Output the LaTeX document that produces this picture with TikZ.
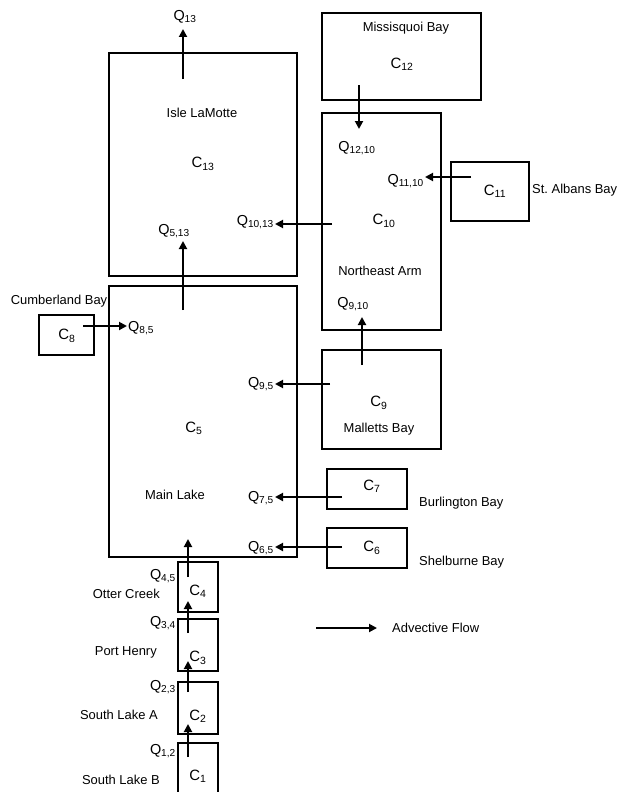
\documentclass[tikz,border=0pt]{standalone}
\usepackage{fontspec}
\setmainfont{Liberation Sans}
\usetikzlibrary{arrows.meta,positioning}

\begin{document}
\begin{tikzpicture}[
        x=1bp, y=-1bp,
        box/.style={line width=1.4bp},
        lbl/.style={font=\fontsize{13}{15}\selectfont, inner sep=1bp},
        clab/.style={font=\fontsize{15}{17}\selectfont, inner sep=1bp},
        qlab/.style={font=\fontsize{14.5}{16}\selectfont, inner sep=1bp},
        flow/.style={line width=1.9bp, -{Triangle[length=8bp,width=8bp]}}
    ]
    \useasboundingbox (0,0) rectangle (619,792);

    % boxes
    \draw[box] (109,53) rectangle (297,276);    % Isle LaMotte
    \draw[box] (322,13) rectangle (481,100);    % Missisquoi Bay
    \draw[box] (322,113) rectangle (441,330);   % Northeast Arm
    \draw[box] (451,162) rectangle (529,221);   % St. Albans Bay
    \draw[box] (109,286) rectangle (297,557);   % Main Lake
    \draw[box] (39,315) rectangle (94,355);     % Cumberland Bay
    \draw[box] (322,350) rectangle (441,449);   % Malletts Bay
    \draw[box] (327,469) rectangle (407,509);   % Burlington Bay
    \draw[box] (327,528) rectangle (407,568);   % Shelburne Bay
    \draw[box] (178,562) rectangle (218,612);   % Otter Creek
    \draw[box] (178,619) rectangle (218,671);   % Port Henry
    \draw[box] (178,682) rectangle (218,734);   % South Lake A
    \draw[box] (178,743) rectangle (218,800);   % South Lake B

    % segment names
    \node[lbl] (isle) at (202,113) {Isle LaMotte};
    \node[lbl] (missisquoi) at (406,28) {Missisquoi Bay};
    \node[lbl] (northeast) at (380,271) {Northeast Arm};
    \node[lbl, anchor=west] (stalbans) at (531,190) {St.\ Albans Bay};
    \node[lbl] (cumberland) at (59,301) {Cumberland Bay};
    \node[lbl] (mainlake) at (175,495) {Main Lake};
    \node[lbl] (malletts) at (379,429) {Malletts Bay};
    \node[lbl, anchor=west] (burlington) at (418,503) {Burlington Bay};
    \node[lbl, anchor=west] (shelburne) at (418,562) {Shelburne Bay};
    \node[lbl, anchor=east] (otter) at (161,594) {Otter Creek};
    \node[lbl, anchor=east] (henry) at (158,652) {Port Henry};
    \node[lbl, anchor=east] (southa) at (159,715) {South Lake A};
    \node[lbl, anchor=east] (southb) at (161,780) {South Lake B};

    % concentrations
    \node[clab] (c13) at (203,164) {C\textsubscript{13}};
    \node[clab] (c12) at (402,64) {C\textsubscript{12}};
    \node[clab] (c10) at (384,221) {C\textsubscript{10}};
    \node[clab] (c11) at (495,191) {C\textsubscript{11}};
    \node[clab] (c8) at (67,336) {C\textsubscript{8}};
    \node[clab] (c5) at (194,428) {C\textsubscript{5}};
    \node[clab] (c9) at (379,403) {C\textsubscript{9}};
    \node[clab] (c7) at (372,486) {C\textsubscript{7}};
    \node[clab] (c6) at (372,548) {C\textsubscript{6}};
    \node[clab] (c4) at (198,591) {C\textsubscript{4}};
    \node[clab] (c3) at (198,658) {C\textsubscript{3}};
    \node[clab] (c2) at (198,716) {C\textsubscript{2}};
    \node[clab] (c1) at (198,776) {C\textsubscript{1}};

    % flows
    \node[qlab] (q13) at (185,17) {Q\textsubscript{13}};
    \node[qlab] (q513) at (174,231) {Q\textsubscript{5,13}};
    \node[qlab, anchor=east] (q1013) at (275,222) {Q\textsubscript{10,13}};
    \node[qlab] (q1210) at (357,148) {Q\textsubscript{12,10}};
    \node[qlab, anchor=east] (q1110) at (425,181) {Q\textsubscript{11,10}};
    \node[qlab] (q910) at (353,304) {Q\textsubscript{9,10}};
    \node[qlab, anchor=west] (q85) at (127,328) {Q\textsubscript{8,5}};
    \node[qlab, anchor=east] (q95) at (275,384) {Q\textsubscript{9,5}};
    \node[qlab, anchor=east] (q75) at (275,498) {Q\textsubscript{7,5}};
    \node[qlab, anchor=east] (q65) at (275,548) {Q\textsubscript{6,5}};
    \node[qlab, anchor=east] (q45) at (177,576) {Q\textsubscript{4,5}};
    \node[qlab, anchor=east] (q34) at (177,623) {Q\textsubscript{3,4}};
    \node[qlab, anchor=east] (q23) at (177,687) {Q\textsubscript{2,3}};
    \node[qlab, anchor=east] (q12) at (177,751) {Q\textsubscript{1,2}};

    % arrow ends
    \coordinate (from13) at (183,79);
    \coordinate (to13) at (183,29);
    \coordinate (from5up) at (183,310);
    \coordinate (to5up) at (183,241);
    \coordinate (from10) at (332,224);
    \coordinate (from12) at (359,85);
    \coordinate (to12) at (359,129);
    \coordinate (from11) at (471,177);
    \coordinate (from9up) at (362,365);
    \coordinate (to9up) at (362,317);
    \coordinate (from8) at (83,326);
    \coordinate (from9) at (330,384);
    \coordinate (from7) at (342,497);
    \coordinate (from6) at (342,547);
    \coordinate (from4) at (188,577);
    \coordinate (to4) at (188,539);
    \coordinate (from3) at (188,633);
    \coordinate (to3) at (188,601);
    \coordinate (from2) at (188,692);
    \coordinate (to2) at (188,661);
    \coordinate (from1) at (188,757);
    \coordinate (to1) at (188,724);

    \draw[flow] (from13) -- (to13);
    \draw[flow] (from5up) -- (to5up);
    \draw[flow] (from10) -- (from10 -| q1013.east);
    \draw[flow] (from12) -- (to12);
    \draw[flow] (from11) -- (from11 -| q1110.east);
    \draw[flow] (from9up) -- (to9up);
    \draw[flow] (from8) -- (from8 -| q85.west);
    \draw[flow] (from9) -- (from9 -| q95.east);
    \draw[flow] (from7) -- (from7 -| q75.east);
    \draw[flow] (from6) -- (from6 -| q65.east);
    \draw[flow] (from4) -- (to4);
    \draw[flow] (from3) -- (to3);
    \draw[flow] (from2) -- (to2);
    \draw[flow] (from1) -- (to1);

    % legend
    \coordinate (legstart) at (316,628);
    \node[lbl, anchor=west] (legend) at (391,628) {Advective Flow};
    \draw[flow] (legstart) -- ([xshift=-14bp]legend.west);
\end{tikzpicture}
\end{document}
